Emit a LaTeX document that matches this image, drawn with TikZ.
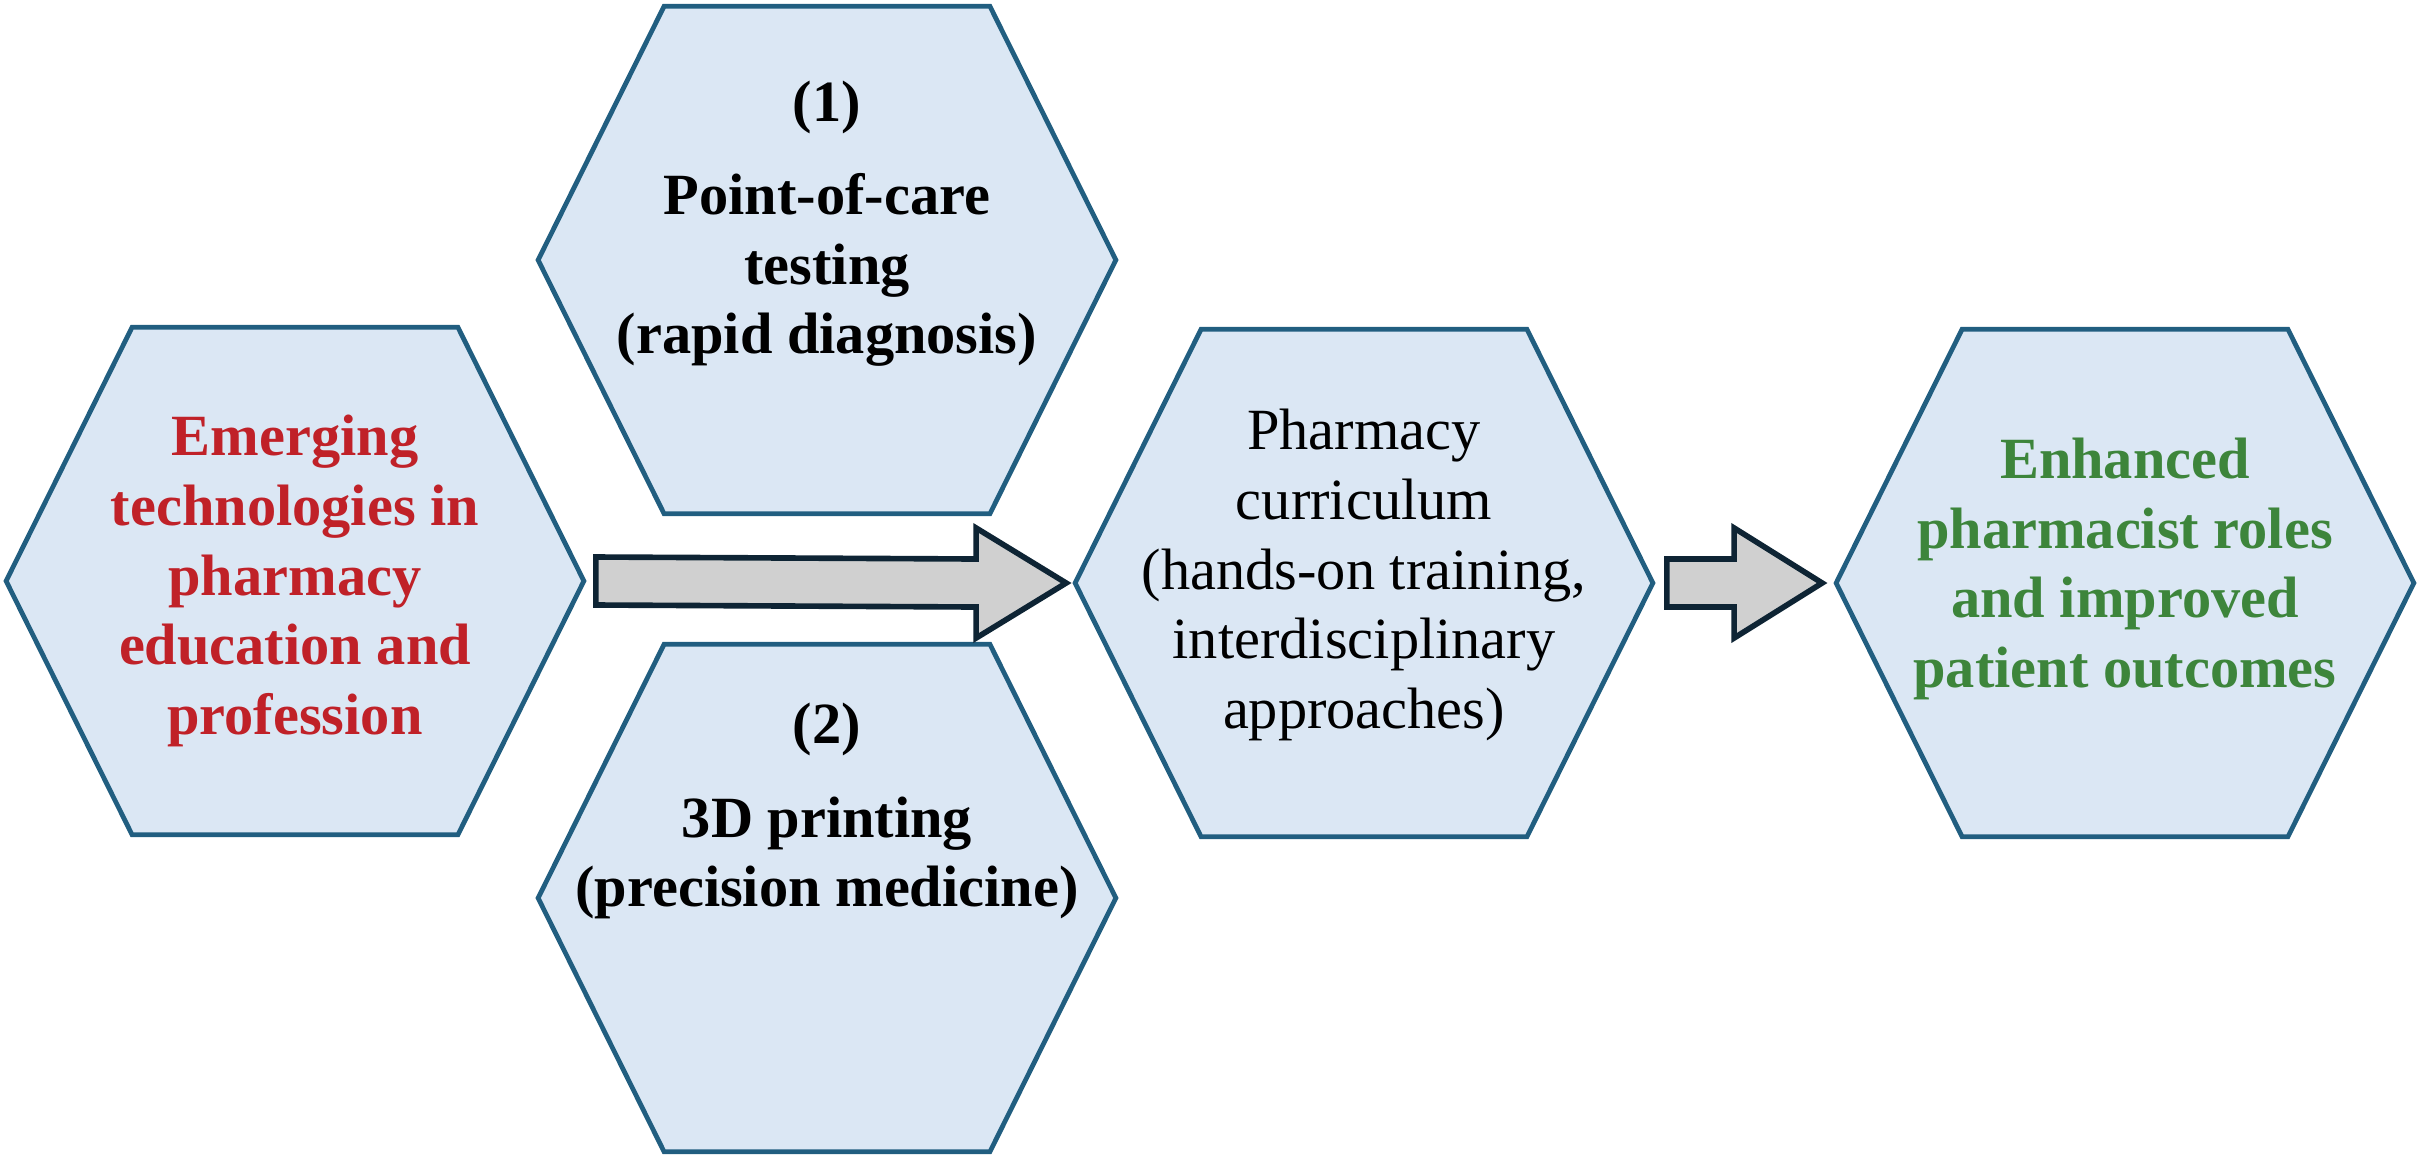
\documentclass[tikz,border=0pt]{standalone}
\usepackage{fontspec}
\setmainfont{Liberation Serif}
\usepackage{tikz}
\usetikzlibrary{calc,backgrounds}
\definecolor{C_hexfill}{RGB}{219,231,244}
\definecolor{C_hexedge}{RGB}{33,94,128}
\definecolor{C_arrowfill}{RGB}{208,208,208}
\definecolor{C_arrowedge}{RGB}{14,36,52}
\definecolor{C_red}{RGB}{192,33,40}
\definecolor{C_green}{RGB}{61,133,59}

\begin{document}
\begin{tikzpicture}[
    x=0.01cm, y=-0.01cm,
    hexcell/.style={rectangle, minimum width=5.76cm, minimum height=5.06cm, inner sep=0pt},
    hexedge/.style={draw=C_hexedge, fill=C_hexfill, line width=1.35pt, line join=miter},
    hexlabel/.style={align=center, inner sep=0pt, font=\fontsize{16.6}{19.8}\selectfont\bfseries},
    plainlabel/.style={hexlabel, font=\fontsize{16.6}{19.8}\selectfont},
    flowarrow/.style={draw=C_arrowedge, fill=C_arrowfill, line width=1.6pt, line join=miter},
]
\useasboundingbox (0,0) rectangle (2421,1160);

% Hexagon cells (coordinates in pixels of the original figure)
\node[hexcell] (tech)  at (295, 581) {};
\node[hexcell] (poc)   at (827, 260) {};
\node[hexcell] (print) at (827, 898) {};
\node[hexcell] (curr)  at (1364, 583) {};
\node[hexcell] (out)   at (2125, 583) {};

% Hexagon outlines behind the text
\begin{scope}[on background layer]
\foreach \n in {tech, poc, print, curr, out}
  \draw[hexedge] (\n.west) -- ($(\n.north west)+(126,0)$) -- ($(\n.north east)+(-126,0)$)
    -- (\n.east) -- ($(\n.south east)+(-126,0)$) -- ($(\n.south west)+(126,0)$) -- cycle;
\end{scope}

% Labels
\node[hexlabel, text=C_red] (techtxt) at (tech)
  {Emerging\\technologies in\\pharmacy\\education and\\profession};
\node[hexlabel] (poctxt) at ($(poc)+(0,-36)$)
  {(1)\\[6.5pt]Point-of-care\\testing\\(rapid diagnosis)};
\node[hexlabel] (printtxt) at ($(print)+(0,-87)$)
  {(2)\\[7pt]3D printing\\(precision medicine)};
\node[plainlabel] (currtxt) at ($(curr)+(0,-8)$)
  {Pharmacy\\curriculum\\(hands-on training,\\interdisciplinary\\approaches)};
\node[hexlabel, text=C_green] (outtxt) at ($(out)+(0,-14)$)
  {Enhanced\\pharmacist roles\\and improved\\patient outcomes};

% Block arrows: from/to/start gap/end gap/head length
\foreach \a/\b/\ga/\gb/\hl in {tech/curr/12/9/90, curr/out/14/14/88}
  \draw[flowarrow] ($(\a.east)+(\ga,-24)$) -- ($(\b.west)+(-\gb-\hl,-24)$)
    -- ($(\b.west)+(-\gb-\hl,-55)$) -- ($(\b.west)+(-\gb,0)$)
    -- ($(\b.west)+(-\gb-\hl,55)$) -- ($(\b.west)+(-\gb-\hl,24)$)
    -- ($(\a.east)+(\ga,24)$) -- cycle;
\end{tikzpicture}
\end{document}
